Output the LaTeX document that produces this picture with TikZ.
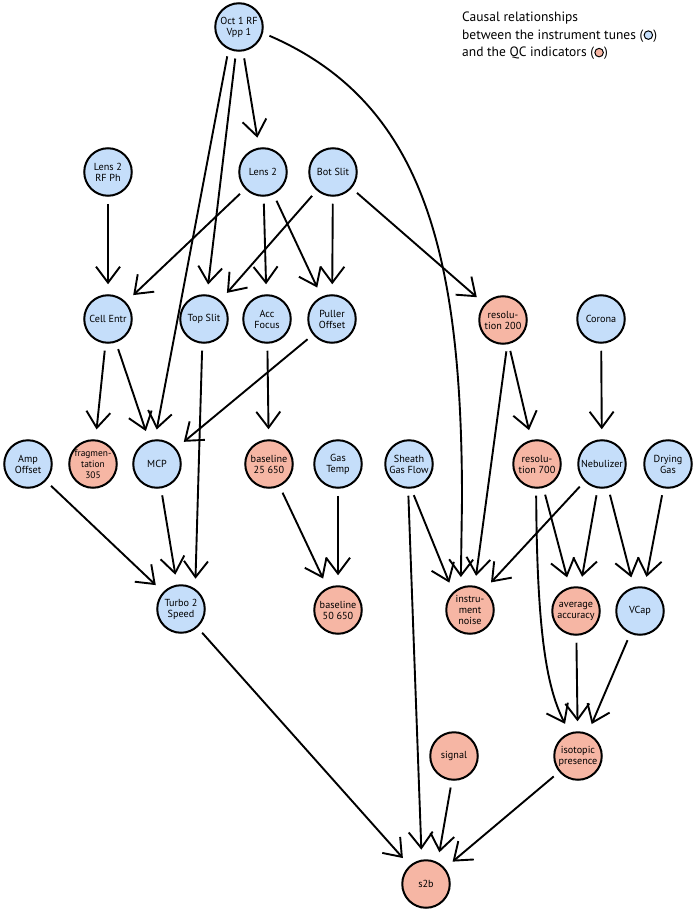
\documentclass[tikz,border=0pt]{standalone}
\usepackage{fontspec}
\setmainfont{PT Sans}
\usetikzlibrary{arrows.meta}
\definecolor{tuneblue}{RGB}{197,222,250}
\definecolor{qcred}{RGB}{246,182,164}
\tikzset{
  base/.style={circle, draw, line width=2pt, minimum size=47.5pt, inner sep=0pt, align=center, font=\fontsize{10.2}{11}\selectfont},
  tune/.style={base, fill=tuneblue},
  qc/.style={base, fill=qcred},
  arr/.style={line width=1.9pt, -{Straight Barb[length=16pt,width=24pt]}, shorten >=10pt, shorten <=7pt},
  legend/.style={inner sep=0pt, font=\fontsize{13.5}{15}\selectfont},
  dot/.style={circle, draw, line width=1pt, minimum size=8.5pt, inner sep=0pt}
}
\begin{document}
\begin{tikzpicture}[x=1pt,y=-1pt]
\useasboundingbox (0,0) rectangle (697,912);
% nodes
\node[tune] (oct) at (239,27) {Oct 1 RF\\Vpp 1};
\node[tune] (l2rf) at (108,172) {Lens 2\\RF Ph};
\node[tune] (lens2) at (263,172) {Lens 2};
\node[tune] (bots) at (333,172) {Bot Slit};
\node[tune] (cell) at (108,319) {Cell Entr};
\node[tune] (tops) at (204,319) {Top Slit};
\node[tune] (acc) at (267,319) {Acc\\Focus};
\node[tune] (pull) at (332,319) {Puller\\Offset};
\node[qc] (res200) at (503,320) {resolu-\\tion 200};
\node[tune] (corona) at (601,319) {Corona};
\node[tune] (amp) at (28,464) {Amp\\Offset};
\node[qc, font=\fontsize{9.4}{11}\selectfont] (frag) at (93,464) {fragmen-\\tation\\305};
\node[tune] (mcp) at (157,464) {MCP};
\node[qc] (b25) at (269,464) {baseline\\25 650};
\node[tune] (gast) at (338,464) {Gas\\Temp};
\node[tune] (sheath) at (409,464) {Sheath\\Gas Flow};
\node[qc] (res700) at (537,464) {resolu-\\tion 700};
\node[tune] (neb) at (602,464) {Nebulizer};
\node[tune] (dry) at (668,464) {Drying\\Gas};
\node[tune] (turbo) at (181,609) {Turbo 2\\Speed};
\node[qc] (b50) at (338,610) {baseline\\50 650};
\node[qc] (noise) at (470,610) {instru-\\ment\\noise};
\node[qc] (avg) at (576,611) {average\\accuracy};
\node[tune] (vcap) at (640,611) {VCap};
\node[qc] (signal) at (454,756) {signal};
\node[qc] (iso) at (578,756) {isotopic\\presence};
\node[qc] (s2b) at (426,884) {s2b};
% legend
\node[legend, anchor=base west] (lg1) at (462,22) {Causal relationships};
\node[legend, anchor=base west] (lg2) at (462,39.5) {between the instrument tunes (};
\node[dot, fill=tuneblue] (d1) at ([xshift=4.8pt,yshift=4.4pt]lg2.base east) {};
\node[legend, anchor=base west] (lg2b) at ([xshift=9.6pt]lg2.base east) {)};
\node[legend, anchor=base west] (lg3) at (462,57) {and the QC indicators (};
\node[dot, fill=qcred] (d2) at ([xshift=4.8pt,yshift=4.4pt]lg3.base east) {};
\node[legend, anchor=base west] (lg3b) at ([xshift=9.6pt]lg3.base east) {)};
% edges
\draw[arr] (oct) -- (lens2);
\draw[arr] (oct) -- (tops);
\draw[arr] (oct.-115) -- (mcp.95);
\draw[arr] (oct.-14) .. controls (422,102) and (462,250) .. (462,500) -- (noise.112);
\draw[arr] (l2rf) -- (cell);
\draw[arr] (lens2) -- (cell);
\draw[arr] (lens2) -- (acc);
\draw[arr] (lens2) -- (pull);
\draw[arr] (bots) -- (tops);
\draw[arr] (bots) -- (pull);
\draw[arr] (bots) -- (res200);
\draw[arr] (cell) -- (frag);
\draw[arr] (cell) -- (mcp);
\draw[arr] (tops.266) -- (turbo.55);
\draw[arr] (acc) -- (b25);
\draw[arr] (pull) -- (mcp);
\draw[arr] (res200) -- (res700);
\draw[arr] (res200.-80) -- (noise.79);
\draw[arr] (corona) -- (neb);
\draw[arr] (amp) -- (turbo);
\draw[arr] (mcp) -- (turbo);
\draw[arr] (b25) -- (b50);
\draw[arr] (gast) -- (b50);
\draw[arr] (sheath.-85) -- (noise.133);
\draw[arr] (sheath.-92) -- (s2b.100);
\draw[arr] (neb.225) -- (noise.55);
\draw[arr] (neb) -- (avg);
\draw[arr] (neb) -- (vcap);
\draw[arr] (res700) -- (avg);
\draw[arr] (res700.-92) .. controls (537,640) and (548,690) .. (iso.110);
\draw[arr] (dry) -- (vcap);
\draw[arr] (avg) -- (iso);
\draw[arr] (vcap) -- (iso);
\draw[arr] (turbo) -- (s2b);
\draw[arr] (signal.-95) -- (s2b.62);
\draw[arr] (iso) -- (s2b);
\end{tikzpicture}
\end{document}
